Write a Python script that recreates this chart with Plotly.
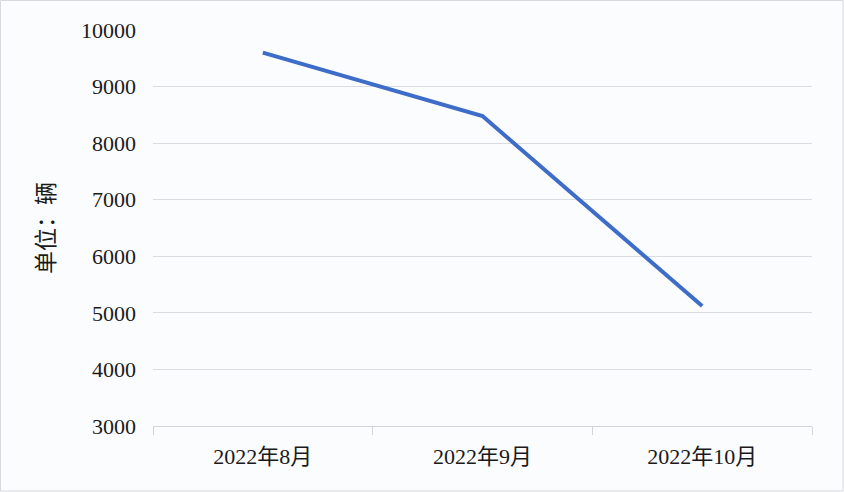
import plotly.graph_objects as go

months = ["2022年8月", "2022年9月", "2022年10月"]
sales = [9600, 8480, 5120]
y_ticks = [3000, 4000, 5000, 6000, 7000, 8000, 9000, 10000]

font_family = "Liberation Serif, Noto Sans CJK SC, serif"
bg = "#fbfcfe"

fig = go.Figure()
fig.add_trace(go.Scatter(
    x=months, y=sales, mode="lines",
    line=dict(color="#3d6dc8", width=4),
    hoverinfo="skip", showlegend=False,
))

fig.update_layout(
    width=844, height=492,
    margin=dict(l=153, r=32, t=30, b=66),
    paper_bgcolor=bg,
    plot_bgcolor=bg,
    font=dict(family=font_family, size=22, color="#1a1a1a"),
    xaxis=dict(
        type="category",
        range=[-0.5, 2.5],
        showgrid=False,
        showline=True, linecolor="#d0d3d8", linewidth=1,
        ticks="outside", tickson="boundaries", ticklen=8, tickcolor="#d0d3d8",
        tickfont=dict(family=font_family, size=22, color="#1a1a1a"),
        ticklabelstandoff=11,
        zeroline=False,
    ),
    yaxis=dict(
        range=[3000, 10000],
        tickvals=y_ticks,
        ticktext=[str(v) for v in y_ticks],
        showgrid=True, gridcolor="#d9dce1", gridwidth=1,
        showline=False, zeroline=False,
        ticks="", ticklabelstandoff=16,
        tickfont=dict(family=font_family, size=22, color="#1a1a1a"),
    ),
    annotations=[dict(
        text="单位：辆", textangle=-90,
        xref="paper", yref="paper",
        x=(46 - 153) / 659, y=0.5,
        xanchor="center", yanchor="middle",
        showarrow=False,
        font=dict(family=font_family, size=23, color="#1a1a1a"),
    )],
    shapes=[dict(
        type="rect", xref="paper", yref="paper",
        x0=-152.5 / 659, x1=1 + 31 / 659, y0=-65 / 396, y1=1 + 29.5 / 396,
        line=dict(color="#d8dadd", width=1), fillcolor="rgba(0,0,0,0)",
        layer="below",
    )],
)

fig.write_html(
    "out.html",
    config={"displayModeBar": False},
    post_script="document.body.style.margin='0px';document.body.style.background='%s';" % bg,
)
